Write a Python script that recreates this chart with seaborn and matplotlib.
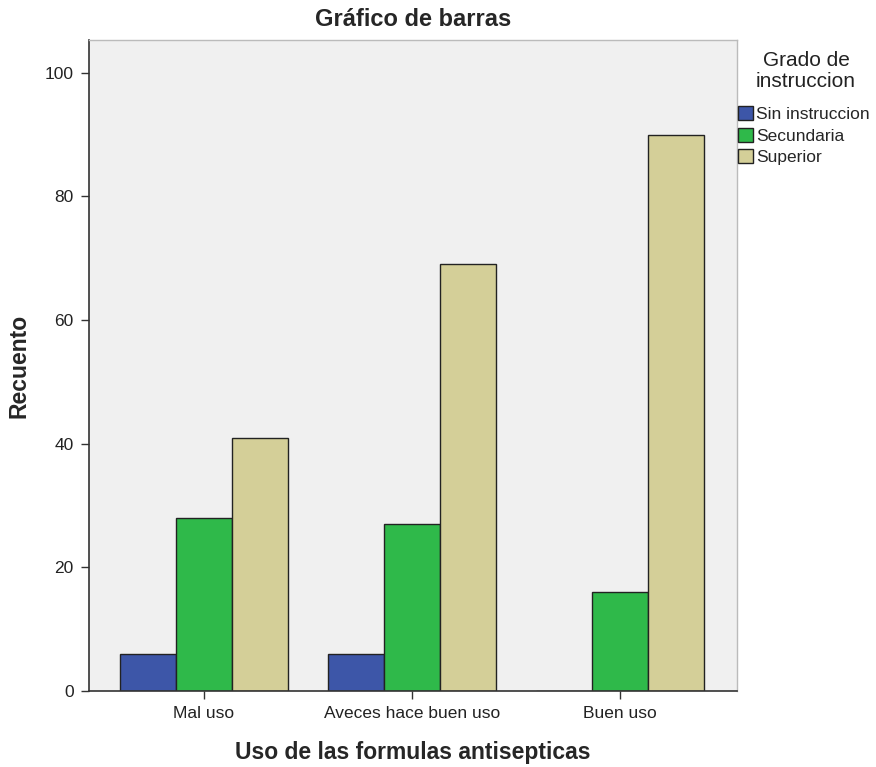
import matplotlib
matplotlib.use("Agg")
import matplotlib.pyplot as plt
import seaborn as sns
import pandas as pd

categories = ["Mal uso", "Aveces hace buen uso", "Buen uso"]
groups = ["Sin instruccion", "Secundaria", "Superior"]
sin_instruccion = [6, 6, 0]
secundaria = [28, 27, 16]
superior = [41, 69, 90]

rows = []
for g, vals in zip(groups, [sin_instruccion, secundaria, superior]):
    for c, v in zip(categories, vals):
        rows.append({"cat": c, "grupo": g, "n": v})
df = pd.DataFrame(rows)

sns.set_theme(style="white")
plt.rcParams['font.family'] = ['Liberation Sans', 'DejaVu Sans']

palette = {"Sin instruccion": "#3d56a8", "Secundaria": "#2fb94a", "Superior": "#d4cf98"}

W, H = 876, 767
fig = plt.figure(figsize=(W / 100, H / 100), dpi=100)
ax = fig.add_axes([0.1016, 0.0991, 0.7397, 0.8488])
ax.set_facecolor("#f0f0f0")
sns.barplot(data=df, x="cat", y="n", hue="grupo", order=categories, hue_order=groups,
            palette=palette, width=0.81, edgecolor="#222222", linewidth=1.0,
            saturation=1, ax=ax, legend=True)

ax.set_ylim(0, 105.3)
ax.set_xlim(-0.553, 2.5625)
ax.set_yticks([0, 20, 40, 60, 80, 100])
ax.tick_params(axis="both", which="both", length=6, width=1, colors="#333333",
               labelsize=12.5, labelcolor="#222222", direction="out", left=True, bottom=True,
               pad=5)
for s in ["left", "bottom"]:
    ax.spines[s].set_color("#333333")
    ax.spines[s].set_linewidth(1.2)
for s in ["top", "right"]:
    ax.spines[s].set_color("#bbbbbb")
    ax.spines[s].set_linewidth(1.0)

ax.set_xlabel("Uso de las formulas antisepticas", fontsize=16.5, fontweight="bold", labelpad=14)
ax.set_ylabel("Recuento", fontsize=16.5, fontweight="bold")
ax.yaxis.set_label_coords(-0.091, 0.5)
ax.set_title("Gráfico de barras", fontsize=17, fontweight="bold", pad=10)

leg = ax.legend(loc="upper left", bbox_to_anchor=(738 / W, 1 - 106 / H),
                bbox_transform=fig.transFigure,
                frameon=False, fontsize=12.5, handlelength=0.85,
                handleheight=0.85, handletextpad=0.2, labelspacing=0.33, borderaxespad=0,
                borderpad=0)
for h in leg.legend_handles:
    h.set_edgecolor("#222222")
    h.set_linewidth(1.0)

fig.text(806 / W, 1 - 71 / H, "Grado de\ninstruccion", ha="center", va="center",
         multialignment="center", fontsize=15, linespacing=1.15, color="#222222")

fig.savefig("out.png", dpi=100)
